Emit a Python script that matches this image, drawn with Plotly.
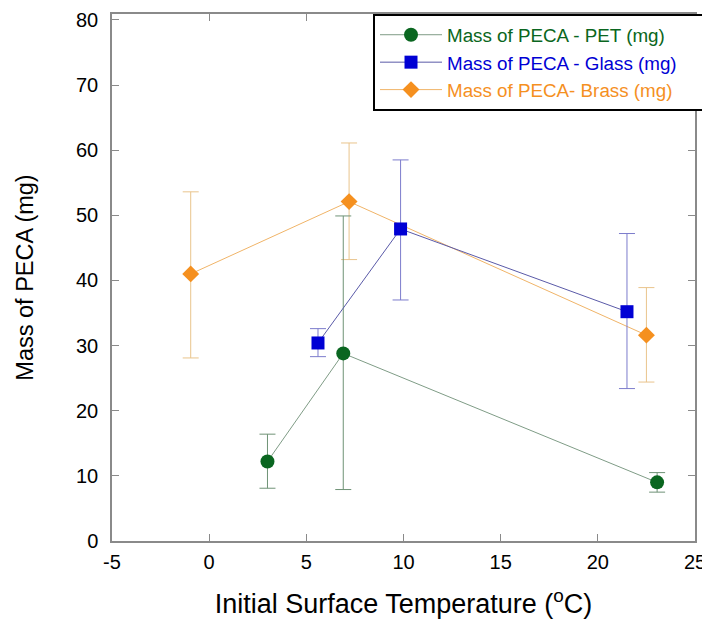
import plotly.graph_objects as go

# ---- data ----
pet_x = [3.0, 6.9, 23.05]
pet_y = [12.2, 28.8, 9.0]
pet_err_plus = [4.2, 21.1, 1.5]
pet_err_minus = [4.1, 20.9, 1.5]

glass_x = [5.6, 9.85, 21.5]
glass_y = [30.4, 47.9, 35.2]
glass_err_plus = [2.2, 10.6, 12.0]
glass_err_minus = [2.1, 10.9, 11.8]

brass_x = [-0.95, 7.2, 22.5]
brass_y = [41.0, 52.1, 31.6]
brass_err_plus = [12.6, 9.0, 7.3]
brass_err_minus = [12.9, 8.9, 7.2]

names = ["Mass of PECA - PET (mg)", "Mass of PECA - Glass (mg)", "Mass of PECA- Brass (mg)"]
x_ticks = [-5, 0, 5, 10, 15, 20, 25]
y_ticks = [0, 10, 20, 30, 40, 50, 60, 70, 80]

FONT = "Liberation Sans, Arial, sans-serif"
AXIS_GRAY = "#8a8a8a"

fig = go.Figure()

def add_series(x, y, ep, em, name, marker_color, line_color, err_color, symbol, size, rank):
    fig.add_trace(go.Scatter(
        x=x, y=y, mode="lines+markers",
        name=f"<span style='color:{marker_color}'>{name}" + "\u00a0" * 5 + "</span>",
        legendrank=rank,
        line=dict(color=line_color, width=1),
        marker=dict(color=marker_color, symbol=symbol, size=size, line=dict(width=0)),
        error_y=dict(type="data", symmetric=False, array=ep, arrayminus=em,
                     color=err_color, thickness=1, width=8),
    ))

add_series(brass_x, brass_y, brass_err_plus, brass_err_minus, names[2],
           "#f5901f", "#f0b468", "#e9c48c", "diamond", 13, 3)
add_series(pet_x, pet_y, pet_err_plus, pet_err_minus, names[0],
           "#0a6620", "#7f9c86", "#6f9276", "circle", 14, 1)
add_series(glass_x, glass_y, glass_err_plus, glass_err_minus, names[1],
           "#0000d4", "#5a5aa8", "#7c7ccc", "square", 13, 2)

fig.update_layout(
    width=702, height=611,
    margin=dict(l=104, r=15, t=6, b=78, autoexpand=False),
    paper_bgcolor="white", plot_bgcolor="white",
    font=dict(family=FONT, color="black"),
    showlegend=True,
    legend=dict(
        x=0.4477, y=1.0, xanchor="left", yanchor="top",
        bgcolor="white", bordercolor="black", borderwidth=2,
        font=dict(size=18.8, family=FONT),
        tracegroupgap=0, itemwidth=62,
    ),
    xaxis=dict(
        range=[-5, 25], tickvals=x_ticks, ticktext=[str(v) for v in x_ticks],
        showgrid=False, zeroline=False, automargin=False,
        showline=True, linecolor=AXIS_GRAY, linewidth=1.5, mirror="ticks",
        ticks="inside", ticklen=7, tickcolor=AXIS_GRAY, tickwidth=1.2,
        tickfont=dict(size=20, family=FONT), ticklabelstandoff=2,
        title=dict(text="Initial Surface Temperature (<sup>o</sup>C)",
                   font=dict(size=27, family=FONT), standoff=31),
    ),
    yaxis=dict(
        range=[0, 80.9], tickvals=y_ticks, ticktext=[str(v) for v in y_ticks],
        showgrid=False, zeroline=False, automargin=False,
        showline=True, linecolor=AXIS_GRAY, linewidth=1.5, mirror="ticks",
        ticks="inside", ticklen=7, tickcolor=AXIS_GRAY, tickwidth=1.2,
        tickfont=dict(size=20, family=FONT), ticklabelstandoff=8,
        title=dict(text="Mass of PECA (mg)", font=dict(size=23.5, family=FONT), standoff=36),
    ),
)

fig.write_html("out.html")
